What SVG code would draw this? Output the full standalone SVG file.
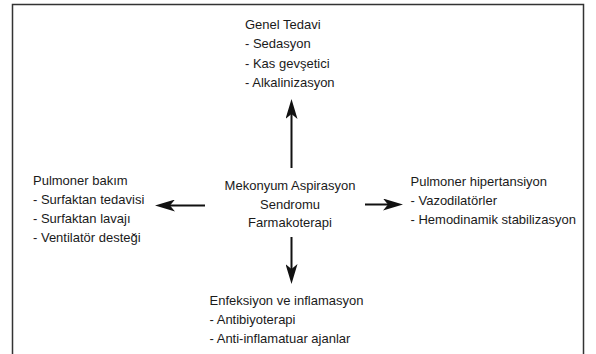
<svg xmlns="http://www.w3.org/2000/svg" width="596" height="354" viewBox="0 0 596 354">
<style>
text{font-family:"Liberation Sans",Arial,sans-serif;font-size:13px;fill:#1a1a1a}
.c{text-anchor:middle}
.ln{stroke:#111;stroke-width:2;fill:none}
</style>
<defs>
<marker id="ah" viewBox="0 0 20 12" refX="10" refY="6" markerWidth="20" markerHeight="12" markerUnits="userSpaceOnUse" orient="auto">
<path d="M0,0 L20,6 L0,12 L5,6 z" fill="#111"/>
</marker>
</defs>
<rect x="0" y="0" width="596" height="354" fill="#fff"/>
<rect x="12.5" y="4.5" width="571" height="370" fill="none" stroke="#333" stroke-width="1.5"/>
<g id="connectors">
<line class="ln" x1="291.5" y1="168" x2="291.5" y2="109" marker-end="url(#ah)"/>
<line class="ln" x1="205" y1="205.5" x2="165" y2="205.5" marker-end="url(#ah)"/>
<line class="ln" x1="365" y1="204.5" x2="393" y2="204.5" marker-end="url(#ah)"/>
<line class="ln" x1="291.5" y1="237" x2="291.5" y2="274" marker-end="url(#ah)"/>
</g>
<g id="center">
<text class="c" x="290" y="190">Mekonyum Aspirasyon</text>
<text class="c" x="290" y="208.5">Sendromu</text>
<text class="c" x="290" y="227">Farmakoterapi</text>
</g>
<g id="genel">
<text x="245" y="28.5">Genel Tedavi</text>
<text x="245" y="48">- Sedasyon</text>
<text x="245" y="67.5">- Kas gevşetici</text>
<text x="245" y="87">- Alkalinizasyon</text>
</g>
<g id="pulmoner-bakim">
<text x="33" y="184.5">Pulmoner bakım</text>
<text x="33" y="203.5">- Surfaktan tedavisi</text>
<text x="33" y="222.5">- Surfaktan lavajı</text>
<text x="33" y="241.5">- Ventilatör desteği</text>
</g>
<g id="pulmoner-hipertansiyon">
<text x="410.5" y="185.5">Pulmoner hipertansiyon</text>
<text x="410.5" y="205">- Vazodilatörler</text>
<text x="410.5" y="224">- Hemodinamik stabilizasyon</text>
</g>
<g id="enfeksiyon">
<text x="209.5" y="304.5">Enfeksiyon ve inflamasyon</text>
<text x="209.5" y="323.5">- Antibiyoterapi</text>
<text x="209.5" y="343">- Anti-inflamatuar ajanlar</text>
</g>
</svg>
